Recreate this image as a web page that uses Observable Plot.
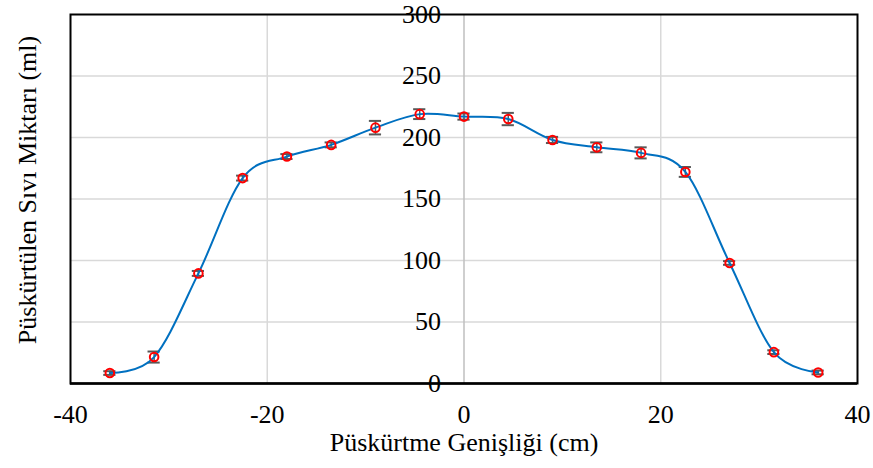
<!DOCTYPE html>
<html>
<head>
<meta charset="utf-8">
<script src="https://cdn.jsdelivr.net/npm/d3@7"></script>
<script src="https://cdn.jsdelivr.net/npm/@observablehq/plot@0.6"></script>
<style>
  html, body { margin: 0; padding: 0; background: #fff; }
  #chart svg { display: block; }
  #chart svg, #chart svg text { font-family: "Liberation Serif", "Times New Roman", "DejaVu Serif", serif !important; }
</style>
</head>
<body>
<div id="chart"></div>
<script>
// Spray width positions (cm)
const positions = [-36, -31.5, -27, -22.5, -18, -13.5, -9, -4.5, 0, 4.5, 9, 13.5, 18, 22.5, 27, 31.5, 36];
// Mean sprayed liquid amount (ml)
const amounts = [8.5, 21.5, 89.5, 167, 184.5, 194, 208, 219, 217, 215, 198, 192, 187.5, 172, 98, 25.5, 9];
// Standard deviation (ml)
const errors = [1.5, 4.5, 2, 2, 2, 2, 5.5, 4, 2.5, 5, 2.5, 4, 4.5, 4, 1.5, 1.5, 1.5];

const xTicks = [-40, -20, 0, 20, 40];
const yTicks = [0, 50, 100, 150, 200, 250, 300];
const xGrid = [-20, 20];
const yGrid = [50, 100, 150, 200, 250];

const xTitle = "Püskürtme Genişliği (cm)";
const yTitle = "Püskürtülen Sıvı Miktarı (ml)";

const serif = "Liberation Serif, Times New Roman, serif";

const rows = positions.map((x, i) => ({x, y: amounts[i], e: errors[i]}));
const capHalf = 0.62; // half cap width in cm
const caps = rows.flatMap(d => [
  {x: d.x, y: d.y + d.e},
  {x: d.x, y: d.y - d.e}
]);

const chart = Plot.plot({
  width: 873,
  height: 468,
  marginLeft: 70,
  marginRight: 16,
  marginTop: 14,
  marginBottom: 85,
  style: {background: "#fff", color: "#000"},
  x: {domain: [-40, 40]},
  y: {domain: [0, 300], axis: null},
  marks: [
    // gridlines
    Plot.ruleY(yGrid, {stroke: "#d9d9d9", strokeWidth: 1.5}),
    Plot.ruleX(xGrid, {stroke: "#d9d9d9", strokeWidth: 1.5}),
    Plot.ruleX([0], {stroke: "#bfbfbf", strokeWidth: 1.5}),
    // error bars
    Plot.ruleX(rows, {x: "x", y1: d => d.y - d.e, y2: d => d.y + d.e, stroke: "#595959", strokeWidth: 1.5}),
    Plot.ruleY(caps, {y: "y", x1: d => d.x - capHalf, x2: d => d.x + capHalf, stroke: "#595959", strokeWidth: 2}),
    // smoothed series line
    Plot.line(rows, {x: "x", y: "y", stroke: "#0070C0", strokeWidth: 2, curve: "cardinal"}),
    // markers
    Plot.dot(rows, {x: "x", y: "y", r: 4.3, stroke: "#ff0000", strokeWidth: 2, fill: "none"}),
    // plot area border and horizontal axis line
    Plot.frame({stroke: "#000", strokeWidth: 2}),
    Plot.ruleY([0], {stroke: "#000", strokeWidth: 2.5}),
    // vertical axis labels, placed beside the x = 0 axis
    Plot.text(yTicks, {x: 0, y: d => d, text: d => String(d), textAnchor: "end", dx: -23, fontSize: 26, fontFamily: serif, fill: "#000"}),
    // horizontal axis labels
    Plot.axisX(xTicks, {tickSize: 0, tickPadding: 21, fontSize: 26, fontFamily: serif, label: null, tickFormat: d => String(d)}),
    // axis titles
    Plot.text([xTitle], {frameAnchor: "bottom", textAnchor: "middle", dy: 67, fontSize: 26, fontFamily: serif, fill: "#000"}),
    Plot.text([yTitle], {frameAnchor: "left", textAnchor: "middle", rotate: -90, dx: -43, dy: -9, fontSize: 26, fontFamily: serif, fill: "#000"})
  ]
});

document.getElementById("chart").appendChild(chart);
</script>
</body>
</html>
